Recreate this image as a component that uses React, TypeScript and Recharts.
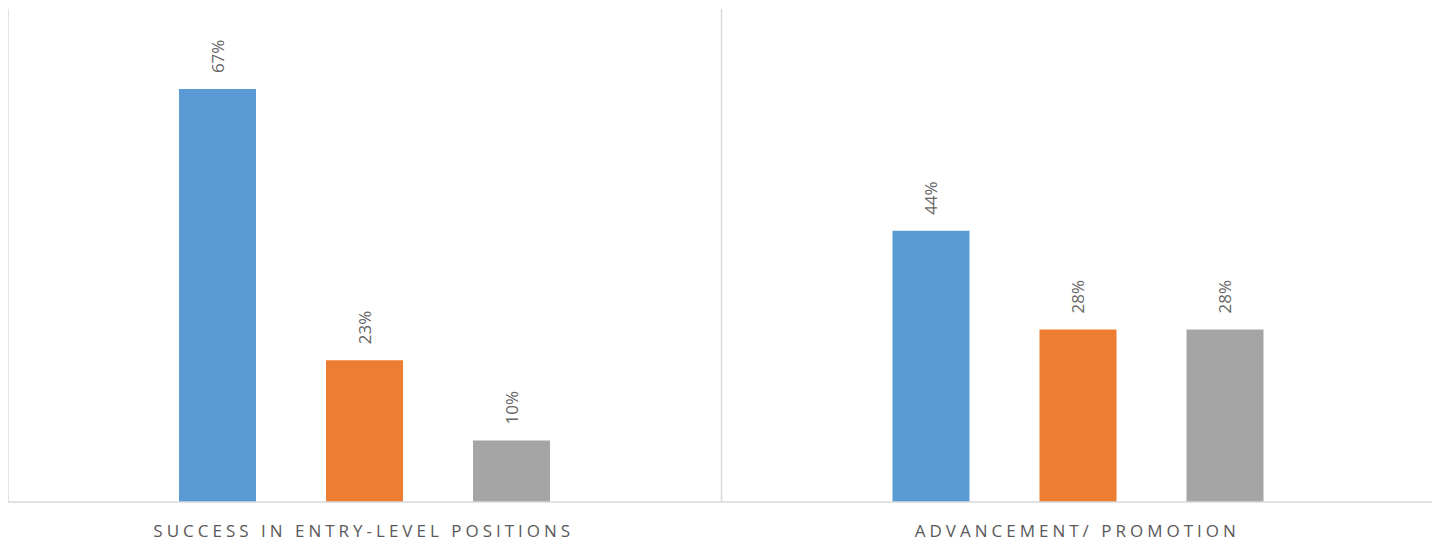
import React from 'react';
import { BarChart, Bar, XAxis, YAxis, CartesianGrid, LabelList } from 'recharts';

const categories = ['SUCCESS IN ENTRY-LEVEL POSITIONS', 'ADVANCEMENT/ PROMOTION'];
const seriesA = [0.67, 0.44];
const seriesB = [0.23, 0.28];
const seriesC = [0.10, 0.28];
const seriesColors = ['#5B9BD5', '#ED7D31', '#A5A5A5'];

const data = categories.map((c, i) => ({ name: c, a: seriesA[i], b: seriesB[i], c: seriesC[i] }));

const FONT = '"Open Sans", "Liberation Sans", sans-serif';

const renderLabel = (props: any) => {
  const { x, y, width, value } = props;
  const cx = Number(x) + Number(width) / 2;
  const cy = Number(y) - 16;
  return (
    <text
      x={cx}
      y={cy}
      transform={`rotate(-90, ${cx}, ${cy})`}
      textAnchor="start"
      dominantBaseline="central"
      fill="#666666"
      fontSize={17}
      fontFamily={FONT}
    >
      {`${Math.round(value * 100)}%`}
    </text>
  );
};

const CatTick = (props: any) => {
  const { x, y, payload } = props;
  return (
    <text
      x={Number(x) - 1}
      y={Number(y) + 27}
      textAnchor="middle"
      fill="#595959"
      fontSize={17}
      fontFamily={FONT}
      letterSpacing={4}
    >
      {payload.value}
    </text>
  );
};

export default function App() {
  return (
    <div style={{ width: 1432, height: 533, background: '#fff' }}>
      <BarChart
        width={1432}
        height={533}
        data={data}
        margin={{ top: 1, right: 5, left: 0, bottom: 0 }}
        barSize={77}
        barGap={70}
      >
        <CartesianGrid
          horizontal={false}
          stroke="#d9d9d9"
          strokeWidth={1.5}
          verticalCoordinatesGenerator={({ offset }: any) => [
            offset.left,
            offset.left + offset.width / 2,
            offset.left + offset.width,
          ]}
        />
        <XAxis
          dataKey="name"
          height={39}
          tickLine={false}
          axisLine={{ stroke: '#d9d9d9', strokeWidth: 1.5 }}
          tick={<CatTick />}
          interval={0}
        />
        <YAxis hide domain={[0, 0.8]} />
        <Bar dataKey="a" fill={seriesColors[0]} isAnimationActive={false}>
          <LabelList dataKey="a" content={renderLabel} />
        </Bar>
        <Bar dataKey="b" fill={seriesColors[1]} isAnimationActive={false}>
          <LabelList dataKey="b" content={renderLabel} />
        </Bar>
        <Bar dataKey="c" fill={seriesColors[2]} isAnimationActive={false}>
          <LabelList dataKey="c" content={renderLabel} />
        </Bar>
      </BarChart>
    </div>
  );
}
